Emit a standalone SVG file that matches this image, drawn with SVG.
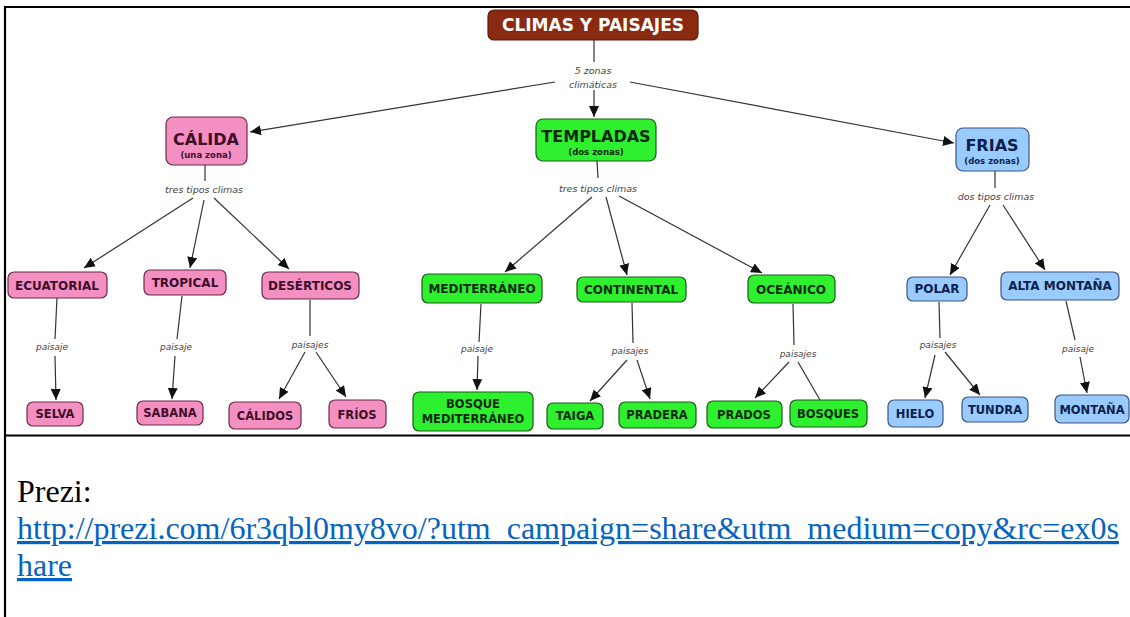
<svg xmlns="http://www.w3.org/2000/svg" width="1130" height="617" viewBox="0 0 1130 617">
<style>
.bg{fill:#ffffff}
.frame{stroke:#000;stroke-width:2.2;fill:none}
.title rect{fill:#8a2a10;stroke:#5a1a08;stroke-width:1.2}
.title text{fill:#ffffff;font-family:"DejaVu Sans",sans-serif;font-weight:bold;font-size:17px;text-anchor:middle}
.pink rect{fill:#f48fc2;stroke:#6a2a48;stroke-width:1.2}
.pink text{fill:#3d0f2a}
.green rect{fill:#2ef02e;stroke:#1a5a1a;stroke-width:1.2}
.green text{fill:#0b2a0b}
.blue rect{fill:#99cbff;stroke:#3a5580;stroke-width:1.2}
.blue text{fill:#0d1f4a}
.node text{font-family:"DejaVu Sans",sans-serif;font-weight:bold;text-anchor:middle}
.big{font-size:16px}
.sub{font-size:8.5px}
.l2{font-size:12px}
.l3{font-size:11.5px}
.lp{font-family:"DejaVu Sans",sans-serif;font-style:italic;font-size:9.5px;fill:#444;text-anchor:middle}
.lp2{font-size:9px}
#connectors line{stroke:#333;stroke-width:1.2}
.arr{marker-end:url(#ah)}
.doc{font-family:"Liberation Serif","Times New Roman",serif;font-size:32px}
.link{fill:#0563c1;text-decoration:underline}
</style>
<defs>
<marker id="ah" markerUnits="userSpaceOnUse" markerWidth="12" markerHeight="10" refX="11" refY="5" orient="auto">
<path d="M0,0 L11,5 L0,10 Z" fill="#111"/>
</marker>
</defs>
<rect class="bg" x="0" y="0" width="1130" height="617"/>
<g id="frame">
<line class="frame" x1="4" y1="7" x2="1130" y2="7"/>
<line class="frame" x1="5" y1="6" x2="5" y2="617"/>
<line class="frame" x1="4" y1="435.5" x2="1130" y2="435.5"/>
</g>
<g id="connectors">
<line x1="594" y1="40" x2="594" y2="62"/>
<line class="arr" x1="555" y1="82" x2="250" y2="132"/>
<line class="arr" x1="594" y1="90" x2="594" y2="117"/>
<line class="arr" x1="630" y1="82" x2="954" y2="143"/>
<line x1="205" y1="165" x2="205" y2="181"/>
<line class="arr" x1="193" y1="198" x2="84" y2="268"/>
<line class="arr" x1="204" y1="200" x2="190" y2="268"/>
<line class="arr" x1="214" y1="198" x2="289" y2="269"/>
<line x1="57" y1="298" x2="55" y2="339"/>
<line class="arr" x1="55" y1="356" x2="56" y2="400"/>
<line x1="182" y1="296" x2="177" y2="339"/>
<line class="arr" x1="175" y1="356" x2="172" y2="399"/>
<line x1="310" y1="300" x2="310" y2="336"/>
<line class="arr" x1="305" y1="352" x2="279" y2="399"/>
<line class="arr" x1="316" y1="352" x2="346" y2="397"/>
<line x1="597" y1="161" x2="598" y2="178"/>
<line class="arr" x1="592" y1="197" x2="505" y2="272"/>
<line class="arr" x1="606" y1="197" x2="627" y2="275"/>
<line class="arr" x1="619" y1="196" x2="762" y2="273"/>
<line x1="481" y1="304" x2="479" y2="342"/>
<line class="arr" x1="478" y1="356" x2="477" y2="390"/>
<line x1="632" y1="303" x2="633" y2="343"/>
<line class="arr" x1="627" y1="360" x2="590" y2="401"/>
<line class="arr" x1="637" y1="360" x2="650" y2="399"/>
<line x1="793" y1="304" x2="794" y2="345"/>
<line class="arr" x1="789" y1="362" x2="755" y2="398"/>
<line x1="798" y1="362" x2="820" y2="400"/>
<line x1="995" y1="171" x2="995" y2="188"/>
<line class="arr" x1="990" y1="205" x2="950" y2="275"/>
<line class="arr" x1="1003" y1="205" x2="1045" y2="270"/>
<line x1="939" y1="302" x2="940" y2="338"/>
<line class="arr" x1="935" y1="355" x2="925" y2="398"/>
<line class="arr" x1="945" y1="352" x2="980" y2="395"/>
<line x1="1066" y1="301" x2="1075" y2="340"/>
<line class="arr" x1="1080" y1="357" x2="1087" y2="393"/>
</g>
<g id="labels">
<text class="lp" x="593" y="74" font-size="10">5 zonas</text>
<text class="lp" x="593" y="88" font-size="10">climáticas</text>
<text class="lp" x="204" y="193">tres tipos climas</text>
<text class="lp" x="598" y="192">tres tipos climas</text>
<text class="lp" x="996" y="200">dos tipos climas</text>
<text class="lp lp2" x="52" y="350">paisaje</text>
<text class="lp lp2" x="176" y="350">paisaje</text>
<text class="lp lp2" x="310" y="348">paisajes</text>
<text class="lp lp2" x="477" y="352">paisaje</text>
<text class="lp lp2" x="630" y="354">paisajes</text>
<text class="lp lp2" x="798" y="357">paisajes</text>
<text class="lp lp2" x="938" y="348">paisajes</text>
<text class="lp lp2" x="1078" y="352">paisaje</text>
</g>
<g id="n-title" class="title"><rect x="488" y="10" width="210" height="30" rx="6"/><text x="593" y="31">CLIMAS Y PAISAJES</text></g>
<g id="n-calida" class="node pink"><rect x="166" y="117" width="81" height="48" rx="7"/><text class="big" x="206" y="145">CÁLIDA</text><text class="sub" x="206" y="158">(una zona)</text></g>
<g id="n-templadas" class="node green"><rect x="536" y="119" width="120" height="42" rx="7"/><text class="big" x="596" y="142" font-size="15">TEMPLADAS</text><text class="sub" x="596" y="155">(dos zonas)</text></g>
<g id="n-frias" class="node blue"><rect x="956" y="128" width="73" height="43" rx="7"/><text class="big" x="992" y="151">FRIAS</text><text class="sub" x="992" y="164">(dos zonas)</text></g>
<g id="n-ecuatorial" class="node pink"><rect x="8" y="272" width="99" height="26" rx="6"/><text class="l2" x="57" y="290">ECUATORIAL</text></g>
<g id="n-tropical" class="node pink"><rect x="144" y="270" width="82" height="25" rx="6"/><text class="l2" x="185" y="287">TROPICAL</text></g>
<g id="n-deserticos" class="node pink"><rect x="262" y="272" width="97" height="27" rx="6"/><text class="l2" x="310" y="290">DESÉRTICOS</text></g>
<g id="n-selva" class="node pink"><rect x="27" y="402" width="56" height="24" rx="6"/><text class="l3" x="55" y="418">SELVA</text></g>
<g id="n-sabana" class="node pink"><rect x="137" y="401" width="66" height="24" rx="6"/><text class="l3" x="170" y="417">SABANA</text></g>
<g id="n-calidos" class="node pink"><rect x="229" y="402" width="72" height="27" rx="6"/><text class="l3" x="265" y="420">CÁLIDOS</text></g>
<g id="n-frios" class="node pink"><rect x="329" y="400" width="57" height="28" rx="6"/><text class="l3" x="357" y="419">FRÍOS</text></g>
<g id="n-mediterraneo" class="node green"><rect x="422" y="274" width="120" height="29" rx="6"/><text class="l2" x="482" y="293">MEDITERRÁNEO</text></g>
<g id="n-continental" class="node green"><rect x="577" y="277" width="109" height="25" rx="6"/><text class="l2" x="631" y="294">CONTINENTAL</text></g>
<g id="n-oceanico" class="node green"><rect x="748" y="275" width="87" height="28" rx="6"/><text class="l2" x="791" y="294">OCEÁNICO</text></g>
<g id="n-bosque-med" class="node green"><rect x="413" y="392" width="120" height="39" rx="6"/><text class="l3" x="473" y="408">BOSQUE</text><text class="l3" x="473" y="423">MEDITERRÁNEO</text></g>
<g id="n-taiga" class="node green"><rect x="547" y="403" width="56" height="26" rx="6"/><text class="l3" x="575" y="420">TAIGA</text></g>
<g id="n-pradera" class="node green"><rect x="619" y="402" width="77" height="26" rx="6"/><text class="l3" x="657" y="419">PRADERA</text></g>
<g id="n-prados" class="node green"><rect x="707" y="401" width="75" height="27" rx="6"/><text class="l3" x="744" y="419">PRADOS</text></g>
<g id="n-bosques" class="node green"><rect x="790" y="400" width="77" height="27" rx="6"/><text class="l3" x="828" y="418">BOSQUES</text></g>
<g id="n-polar" class="node blue"><rect x="907" y="277" width="60" height="24" rx="6"/><text class="l2" x="937" y="293">POLAR</text></g>
<g id="n-alta" class="node blue"><rect x="1001" y="272" width="118" height="28" rx="6"/><text class="l2" x="1060" y="290">ALTA MONTAÑA</text></g>
<g id="n-hielo" class="node blue"><rect x="888" y="400" width="55" height="27" rx="6"/><text class="l3" x="915" y="418">HIELO</text></g>
<g id="n-tundra" class="node blue"><rect x="962" y="397" width="66" height="25" rx="6"/><text class="l3" x="995" y="414">TUNDRA</text></g>
<g id="n-montana" class="node blue"><rect x="1055" y="395" width="74" height="28" rx="6"/><text class="l3" x="1092" y="414">MONTAÑA</text></g>
<g id="doc">
<text class="doc" x="17" y="502">Prezi:</text>
<text class="doc link" x="17" y="539">http://prezi.com/6r3qbl0my8vo/?utm_campaign=share&amp;utm_medium=copy&amp;rc=ex0s</text>
<text class="doc link" x="17" y="576">hare</text>
</g>
</svg>
